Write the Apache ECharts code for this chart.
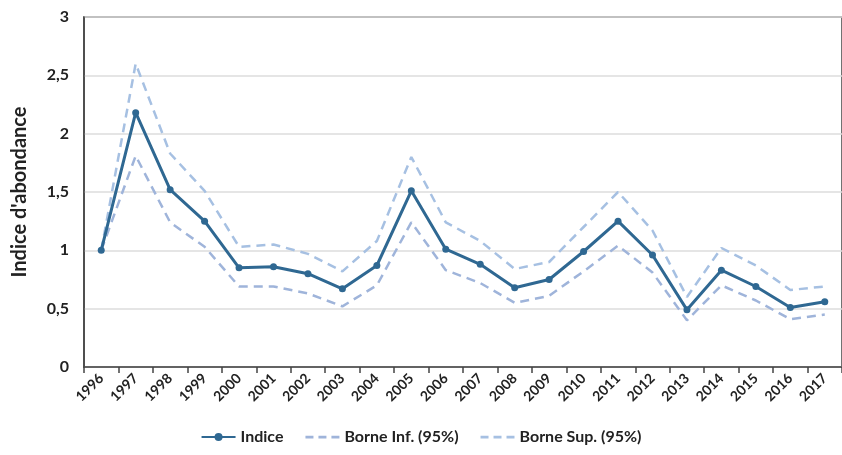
<!DOCTYPE html>
<html><head><meta charset="utf-8">
<script src="https://cdn.jsdelivr.net/npm/echarts@6/dist/echarts.min.js"></script>
<style>html,body{margin:0;padding:0;background:#fff}#c{width:842px;height:455px}</style>
</head><body><div id="c"></div>
<script>
const years = ['1996','1997','1998','1999','2000','2001','2002','2003','2004','2005','2006','2007','2008','2009','2010','2011','2012','2013','2014','2015','2016','2017'];
const indice = [1.0,2.18,1.52,1.25,0.85,0.86,0.80,0.67,0.87,1.51,1.01,0.88,0.68,0.75,0.99,1.25,0.96,0.49,0.83,0.69,0.51,0.56];
const borneInf = [1.0,1.81,1.24,1.03,0.69,0.69,0.63,0.52,0.70,1.24,0.83,0.72,0.55,0.61,0.82,1.04,0.81,0.40,0.70,0.57,0.41,0.45];
const borneSup = [1.0,2.60,1.83,1.51,1.03,1.05,0.97,0.82,1.08,1.80,1.24,1.08,0.84,0.90,1.20,1.50,1.17,0.60,1.02,0.87,0.66,0.69];
const yTicks = [0,0.5,1,1.5,2,2.5,3];

const F = 'Lato, "Open Sans", sans-serif';
const dashIcon = 'path://M0,3.8h8v2.6h-8z M13,3.8h8v2.6h-8z M26,3.8h8v2.6h-8z M0,0h0.01v0.01h-0.01z M34,10h0.01v0.01h-0.01z';
const chart = echarts.init(document.getElementById('c'));
chart.setOption({
  animation:false,
  grid:{left:84,right:-11,top:17,bottom:88,show:true,borderColor:'#444',borderWidth:1.5,backgroundColor:'transparent'},
  legend:{bottom:5,left:'center',itemGap:22,itemWidth:34,itemHeight:10,
    textStyle:{fontFamily:F,fontWeight:'bold',fontSize:16,color:'#222'},
    data:[{name:'Indice'},{name:'Borne Inf. (95%)',icon:dashIcon},{name:'Borne Sup. (95%)',icon:dashIcon}]},
  xAxis:{type:'category',data:years,boundaryGap:true,
    axisLine:{lineStyle:{color:'#444',width:1.5}},
    axisTick:{show:true,length:6,lineStyle:{color:'#444',width:1.5}},
    axisLabel:{rotate:45,fontFamily:F,fontWeight:'bold',fontSize:14,color:'#222',margin:9,interval:0}},
  yAxis:{type:'value',min:0,max:3,interval:0.5,
    name:"Indice d'abondance",nameLocation:'middle',nameGap:54,
    nameTextStyle:{fontFamily:F,fontWeight:'bold',fontSize:20,color:'#222'},
    axisLine:{show:true,lineStyle:{color:'#444',width:1.5}},
    axisTick:{show:false},
    splitLine:{lineStyle:{color:'#dcdcdc',width:1.5}},
    axisLabel:{fontFamily:F,fontWeight:'bold',fontSize:16,color:'#222',margin:15,
      formatter:v=>String(v).replace('.',',')}},
  series:[
    {name:'Indice',type:'line',data:indice,symbol:'circle',symbolSize:7,z:5,
      lineStyle:{color:'#2f6892',width:3},itemStyle:{color:'#2f6892'}},
    {name:'Borne Inf. (95%)',type:'line',data:borneInf,symbol:'none',
      lineStyle:{color:'#9fb4da',width:2.5,type:[9,6]},itemStyle:{color:'#9fb4da'}},
    {name:'Borne Sup. (95%)',type:'line',data:borneSup,symbol:'none',
      lineStyle:{color:'#a6c0e2',width:2.5,type:[9,6]},itemStyle:{color:'#a6c0e2'}}
  ]
});
</script></body></html>
